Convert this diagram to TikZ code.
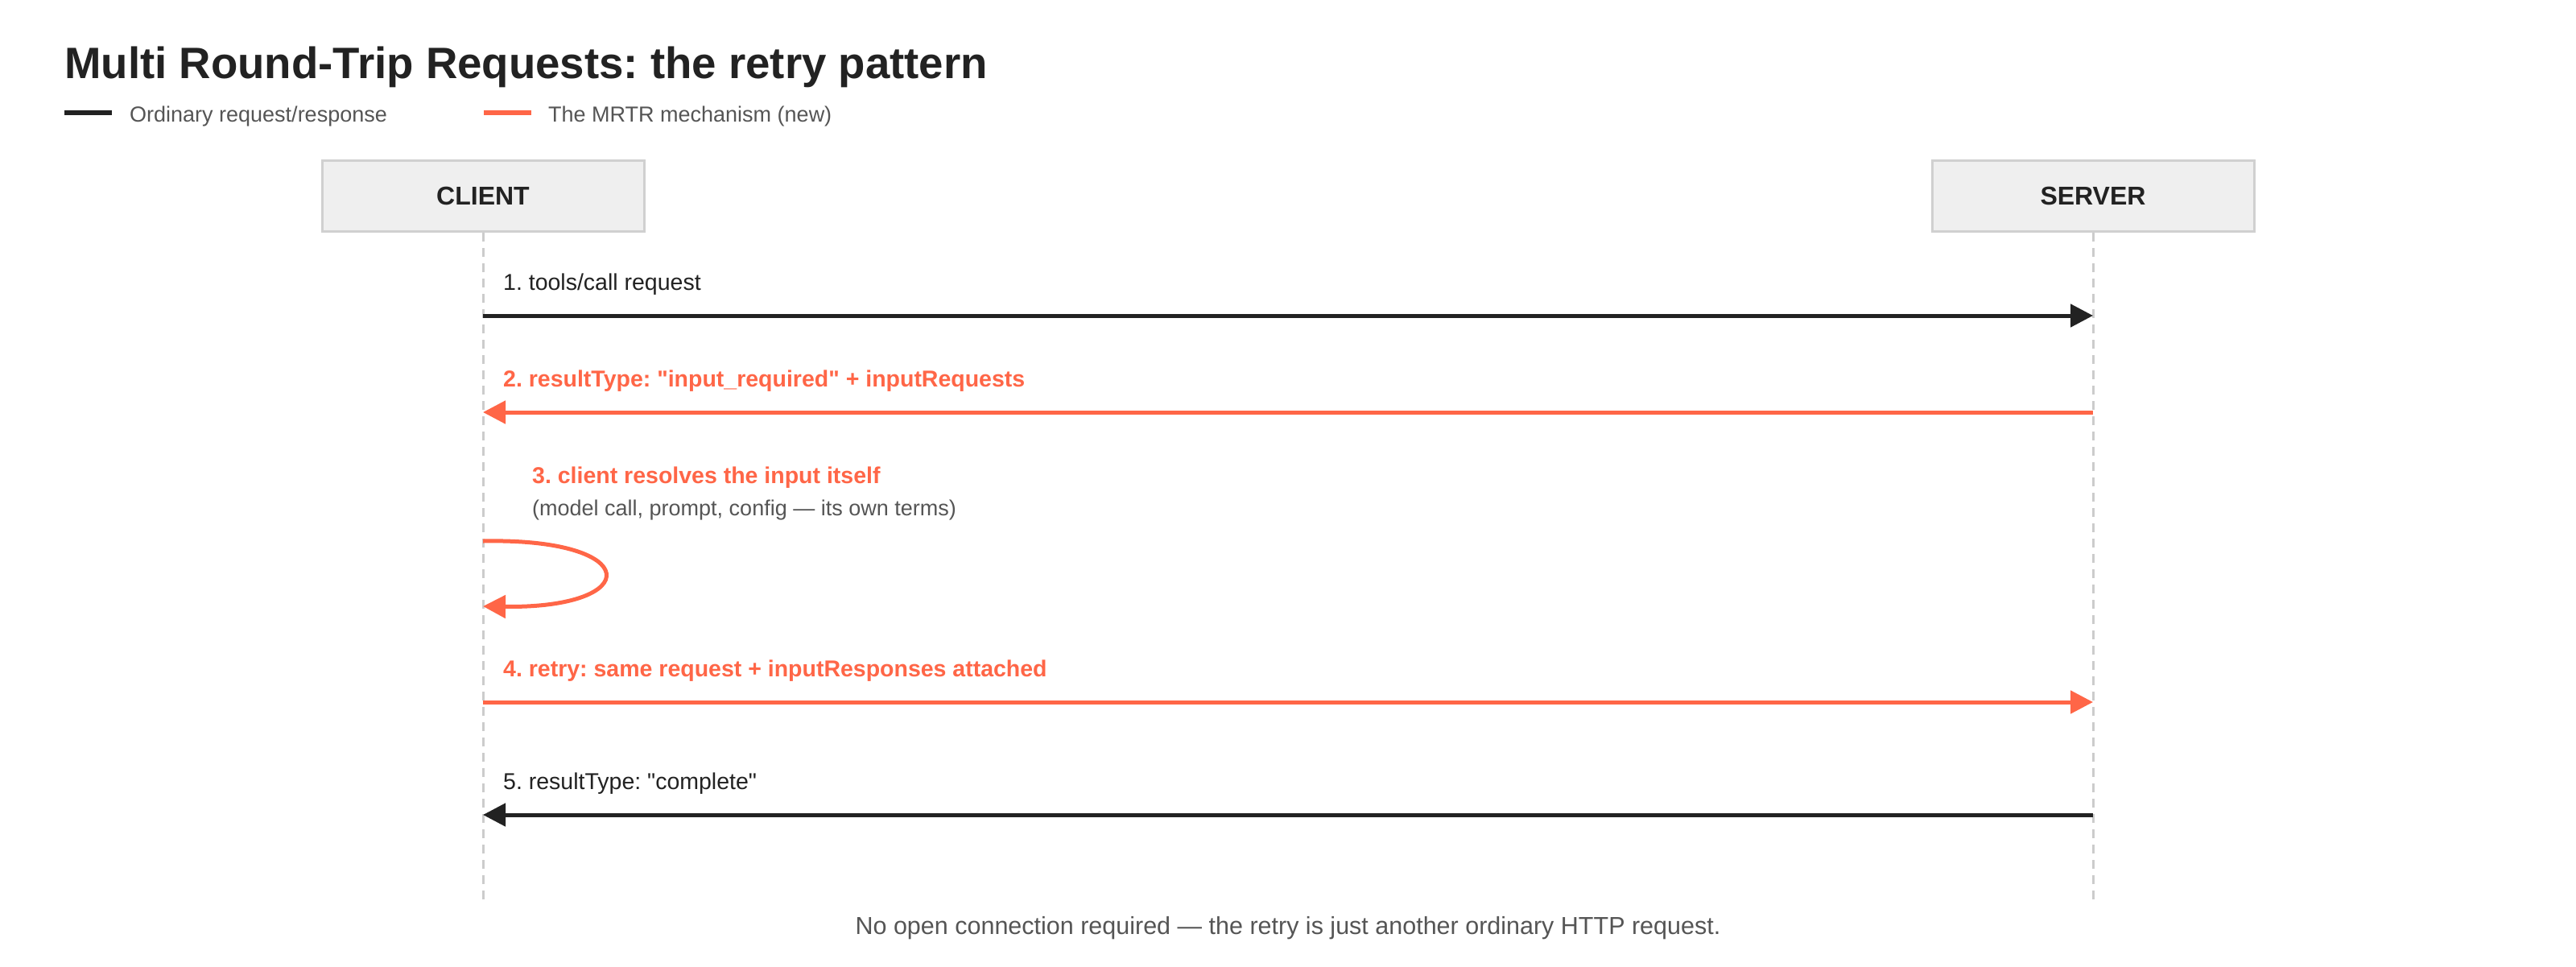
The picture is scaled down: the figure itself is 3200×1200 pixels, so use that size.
\documentclass[tikz,border=0pt]{standalone}
\usepackage{fontspec}
\setmainfont{Liberation Sans}[Ligatures=TeXOff]
\usetikzlibrary{arrows.meta}
\definecolor{ink}{HTML}{222222}
\definecolor{mrtr}{HTML}{FF6647}
\definecolor{muted}{HTML}{555555}
\definecolor{boxfill}{HTML}{EFEFEF}
\definecolor{boxline}{HTML}{D0D0D0}
\definecolor{lifeln}{HTML}{CCCCCC}
\newcommand{\fs}[1]{\fontsize{#1}{#1}\selectfont}
\frenchspacing
\begin{document}
\begin{tikzpicture}[x=1pt,y=-1pt,
  actor/.style={draw=boxline,line width=3pt,fill=boxfill,minimum width=400pt,minimum height=88pt,inner sep=0pt,font=\fs{32}\bfseries,text=ink},
  lbl/.style={anchor=base west,inner sep=0pt,font=\fs{28.5},text=ink},
  mlbl/.style={anchor=base west,inner sep=0pt,font=\fs{28.5}\bfseries,text=mrtr},
  sublbl/.style={anchor=base west,inner sep=0pt,font=\fs{27},text=muted},
  lifeline/.style={draw=lifeln,line width=3pt,dash pattern=on 11pt off 8pt},
  plainmsg/.style={draw=ink,line width=5pt,-{Triangle[length=28pt,width=28pt]}},
  mrtrmsg/.style={draw=mrtr,line width=5pt,-{Triangle[length=28pt,width=28pt]}},
  legline/.style={line width=5.5pt}
]
\useasboundingbox (0,0) rectangle (3200,1200);
\fill[white] (0,0) rectangle (3200,1200);

% title
\node[anchor=base west,inner sep=0pt,font=\fs{54.6}\bfseries,text=ink] (title) at (80,97) {Multi Round-Trip Requests: the retry pattern};

% legend
\coordinate (la1) at (80,140); \coordinate (la2) at (139,140);
\draw[legline,ink] (la1) -- (la2);
\node[anchor=base west,inner sep=0pt,font=\fs{27},text=muted] (legA) at (161,151) {Ordinary request/response};
\coordinate (lb1) at (601,140); \coordinate (lb2) at (660,140);
\draw[legline,mrtr] (lb1) -- (lb2);
\node[anchor=base west,inner sep=0pt,font=\fs{27},text=muted] (legB) at (681,151) {The MRTR mechanism (new)};

% actors
\node[actor] (client) at (600,243.5) {CLIENT};
\node[actor] (server) at (2600,243.5) {SERVER};
\coordinate (cend) at (600,1117);
\coordinate (send) at (2600,1117);
\draw[lifeline] (client.south) -- (cend);
\draw[lifeline] (server.south) -- (send);

% message anchor points
\coordinate (c1) at (600,392);  \coordinate (s1) at (2600,392);
\coordinate (c2) at (600,512);  \coordinate (s2) at (2600,512);
\coordinate (c3a) at (600,672); \coordinate (c3b) at (600,753);
\coordinate (c4) at (600,872);  \coordinate (s4) at (2600,872);
\coordinate (c5) at (600,1012); \coordinate (s5) at (2600,1012);

% 1
\node[lbl] (m1) at (625,360) {1. tools/call request};
\draw[plainmsg] (c1) -- (s1);
% 2
\node[mlbl] (m2) at (625,480) {2. resultType: "input\_required" + inputRequests};
\draw[mrtrmsg] (s2) -- (c2);
% 3
\node[mlbl] (m3) at (661,600) {3. client resolves the input itself};
\node[sublbl] (m3s) at (661,640) {(model call, prompt, config — its own terms)};
\draw[mrtrmsg] (c3a) .. controls (800,668) and (800,756) .. (c3b);
% 4
\node[mlbl] (m4) at (625,840) {4. retry: same request + inputResponses attached};
\draw[mrtrmsg] (c4) -- (s4);
% 5
\node[lbl] (m5) at (625,980) {5. resultType: "complete"};
\draw[plainmsg] (s5) -- (c5);

% footer
\node[anchor=base,inner sep=0pt,font=\fs{30.5},text=muted] (foot) at (1600,1160) {No open connection required — the retry is just another ordinary HTTP request.};
\end{tikzpicture}
\end{document}
